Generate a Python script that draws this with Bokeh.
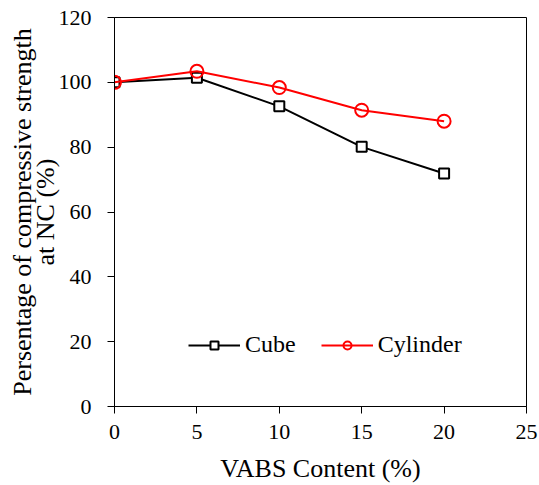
from bokeh.plotting import figure
from bokeh.models import FixedTicker, Range1d, Legend, LegendItem
from bokeh.embed import file_html
from bokeh.resources import INLINE

vabs = [0, 5, 10, 15, 20]
cube = [100.0, 101.4, 92.6, 80.1, 71.9]
cylinder = [100.0, 103.4, 98.4, 91.4, 88.0]
x_ticks = [0, 5, 10, 15, 20, 25]
y_ticks = [0, 20, 40, 60, 80, 100, 120]

FONT = "Liberation Serif"

p = figure(width=539, height=485, output_backend="svg", toolbar_location=None,
           x_range=Range1d(0, 25), y_range=Range1d(0, 120),
           min_border_left=114, min_border_right=13, min_border_top=17, min_border_bottom=78)
p.xgrid.visible = False
p.ygrid.visible = False
p.outline_line_color = "black"
p.outline_line_alpha = 1

for ax in (p.xaxis[0], p.yaxis[0]):
    ax.axis_line_color = "black"
    ax.major_tick_line_color = "black"
    ax.major_tick_out = 7
    ax.major_tick_in = 0
    ax.minor_tick_line_color = None
    ax.major_label_text_font = FONT
    ax.major_label_text_font_size = "22px"
    ax.major_label_text_color = "black"
    ax.axis_label_text_font = FONT
    ax.axis_label_text_font_size = "26px"
    ax.axis_label_text_font_style = "normal"
    ax.axis_label_text_color = "black"

p.xaxis.ticker = FixedTicker(ticks=x_ticks)
p.yaxis.ticker = FixedTicker(ticks=y_ticks)
p.xaxis.major_label_standoff = 11
p.yaxis.major_label_standoff = 16
p.xaxis.axis_label = "VABS Content (%)"
p.xaxis.axis_label_standoff = 12
p.yaxis.axis_label = "Persentage of compressive strength\nat NC (%)"
p.yaxis.axis_label_standoff = -4
p.yaxis.axis_label_text_line_height = 0.78

l1 = p.line(vabs, cube, line_color="black", line_width=2)
m1 = p.scatter(vabs, cube, marker="square", size=10, line_color="black", line_width=2, fill_color="white")
l2 = p.line(vabs, cylinder, line_color="red", line_width=2)
m2 = p.scatter(vabs, cylinder, marker="circle", size=13, line_color="red", line_width=2, fill_color=None)

legend = Legend(items=[LegendItem(label="Cube", renderers=[l1, m1]),
                       LegendItem(label="Cylinder", renderers=[l2, m2])],
                location=(74, 48), orientation="horizontal",
                border_line_color=None, background_fill_alpha=0,
                padding=0, margin=0, spacing=25,
                glyph_width=52, glyph_height=20, label_standoff=5,
                label_text_font=FONT,
                label_text_font_size="24px", label_text_color="black")
p.add_layout(legend)

open("out.html", "w").write(file_html(p, INLINE))
